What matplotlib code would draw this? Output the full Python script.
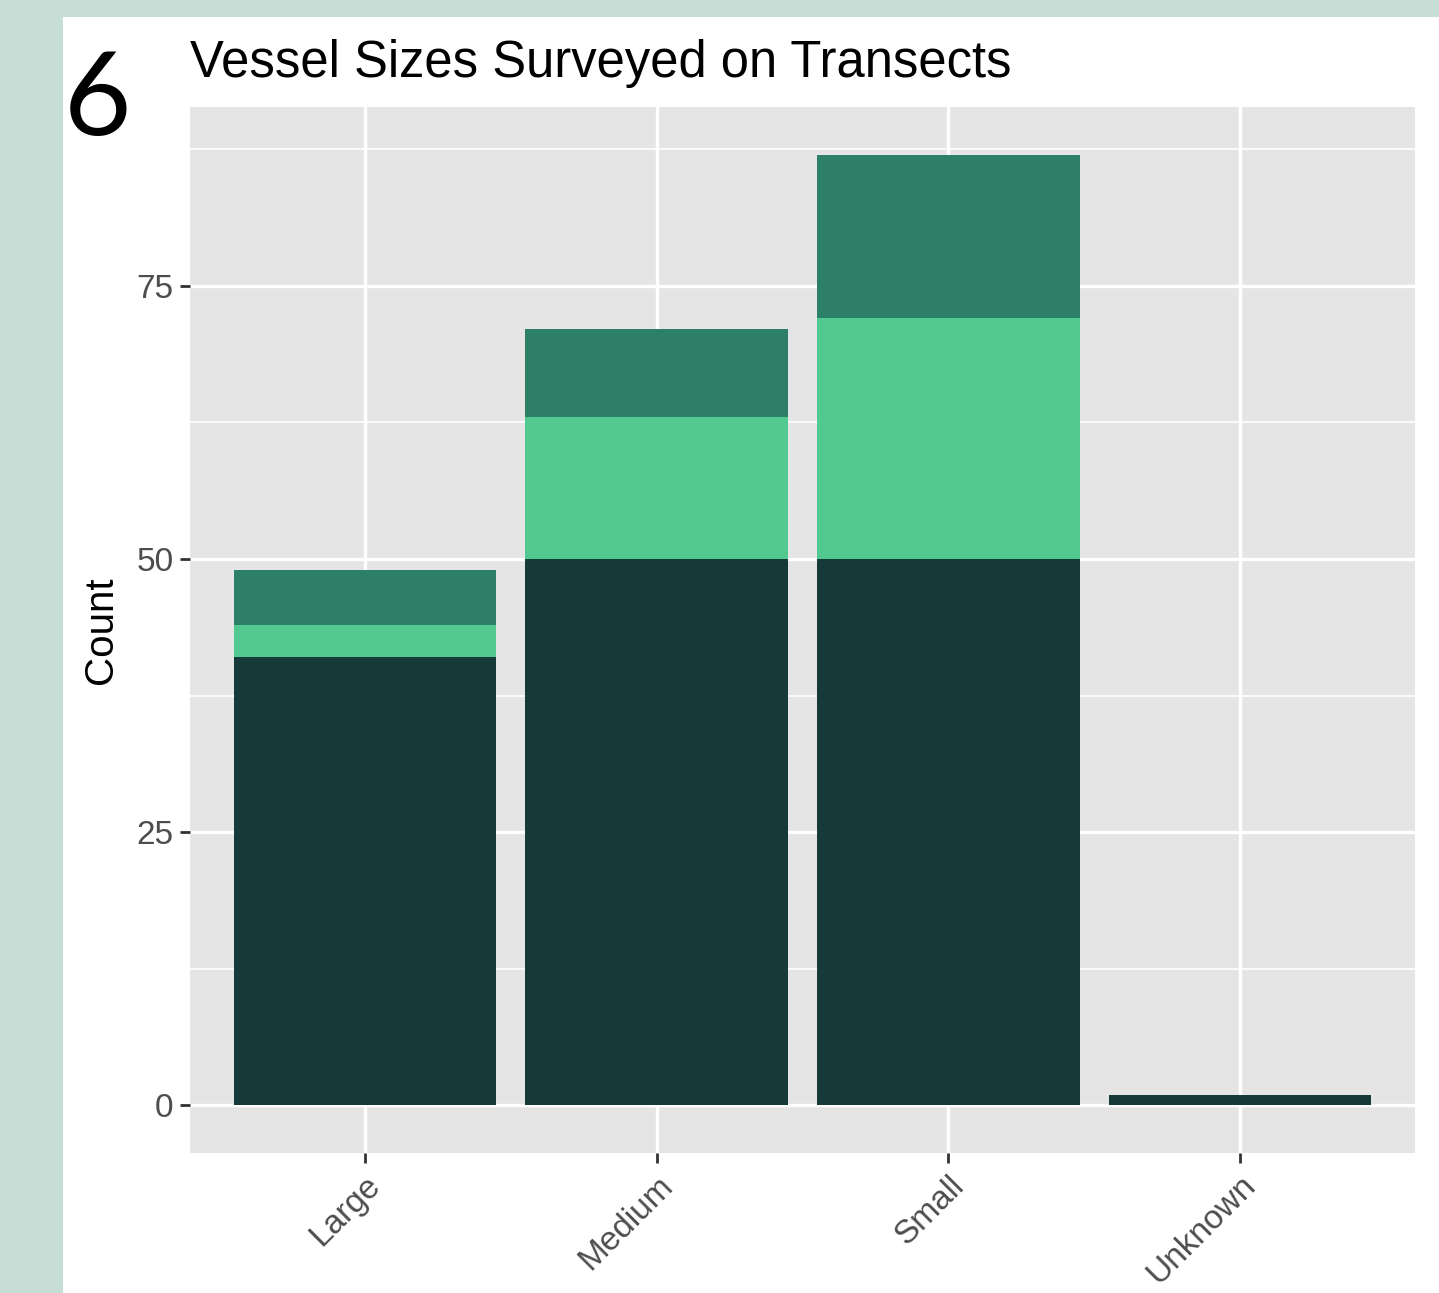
import matplotlib
matplotlib.use("Agg")
import matplotlib.pyplot as plt
import numpy as np
from matplotlib.patches import Rectangle

# Vessel counts per size class, split into three stacked groups
categories = ["Large", "Medium", "Small", "Unknown"]
group_bottom = [41, 50, 50, 1]
group_middle = [3, 13, 22, 0]
group_top = [5, 8, 15, 0]

y_ticks = [0, 25, 50, 75]
y_minor = [12.5, 37.5, 62.5, 87.5]

colors = ["#163a3a", "#52c990", "#2e7f67"]

W, H = 1439, 1293
fig = plt.figure(figsize=(W / 100, H / 100), dpi=100)
fig.patch.set_facecolor("#c6ded6")

# White card behind the chart
fig.patches.append(Rectangle((63 / W, 0), 1 - 63 / W, 1 - 17 / H,
                             transform=fig.transFigure, facecolor="white",
                             edgecolor="none", zorder=-5))

ax = fig.add_axes([190 / W, (H - 1153) / H, (1415 - 190) / W, (1153 - 107) / H])
ax.set_zorder(2)
ax.set_facecolor("#e5e5e5")

x = np.arange(1, len(categories) + 1)
bottoms = np.zeros(len(categories))
for vals, c in zip([group_bottom, group_middle, group_top], colors):
    vals = np.array(vals, dtype=float)
    ax.bar(x, vals, width=0.9, bottom=bottoms, color=c, edgecolor="none", zorder=3)
    bottoms += vals

total_max = max(bottoms)
pad = 0.05 * total_max
ax.set_ylim(-pad, total_max + pad)
ax.set_xlim(0.4, len(categories) + 0.6)

ax.set_yticks(y_ticks)
ax.set_yticks(y_minor, minor=True)
ax.set_xticks(x)
ax.set_xticklabels(categories, rotation=45, ha="right", va="top",
                   rotation_mode="anchor")

ax.grid(which="major", color="white", linewidth=2.4, zorder=1)
ax.grid(which="minor", axis="y", color="white", linewidth=1.2, zorder=1)
ax.set_axisbelow(True)

for s in ax.spines.values():
    s.set_visible(False)

ax.tick_params(axis="both", which="major", length=7, width=2, color="#333333",
               labelcolor="#4d4d4d", labelsize=24, pad=5,
               labelfontfamily="Liberation Sans")
ax.tick_params(axis="both", which="minor", length=0)

ax.set_ylabel("Count", fontsize=29, family="Liberation Sans", color="black",
              labelpad=12)

fig.text(190 / W, 1 - 77 / H, "Vessel Sizes Surveyed on Transects",
         fontsize=36.5, family="Liberation Sans", color="black",
         ha="left", va="baseline")

fig.text(64 / W, 1 - 135 / H, "6", fontsize=84, family="Lato",
         color="black", ha="left", va="baseline")

fig.savefig("out.png", dpi=100, facecolor=fig.get_facecolor())
